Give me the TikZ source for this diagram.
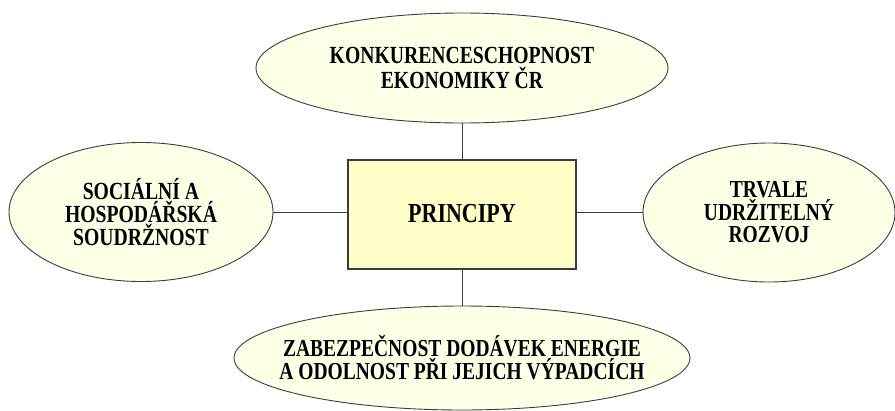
\documentclass[tikz,border=0pt]{standalone}
\usepackage{fontspec}
\setmainfont{Liberation Serif}[FakeStretch=0.8]
\usetikzlibrary{shapes.geometric}
\definecolor{ellfill}{RGB}{255,255,232}
\definecolor{boxfill}{RGB}{255,255,200}
\definecolor{edge}{RGB}{60,60,60}
\tikzset{
  ell/.style={ellipse, draw=edge, line width=0.9pt, fill=ellfill, inner sep=0pt, align=center,
    font=\bfseries\fontsize{24.6}{25}\selectfont, text=black},
  centerbox/.style={rectangle, draw=edge, line width=2pt, fill=boxfill, inner sep=0pt,
    minimum width=228pt, minimum height=109pt, font=\bfseries\fontsize{27.5}{28}\selectfont, text=black},
  link/.style={draw=edge, line width=1pt}
}
\begin{document}
\begin{tikzpicture}[x=1pt, y=-1pt]
\useasboundingbox (0,0) rectangle (895,410);
\node[centerbox] (rect) at (462,214) {PRINCIPY};
\node[ell, minimum width=412pt, minimum height=110pt] (top) at (462,68)
  {KONKURENCESCHOPNOST\\EKONOMIKY ČR};
\node[ell, minimum width=264pt, minimum height=139pt, font=\bfseries\fontsize{24.6}{23}\selectfont] (left) at (141,212)
  {SOCIÁLNÍ A\\HOSPODÁŘSKÁ\\SOUDRŽNOST};
\node[ell, minimum width=252pt, minimum height=139pt, font=\bfseries\fontsize{24.4}{22.5}\selectfont] (right) at (769,212.5)
  {TRVALE\\UDRŽITELNÝ\\ROZVOJ};
\node[ell, inner xsep=-60pt, minimum width=456pt, minimum height=104pt, font=\bfseries\fontsize{24.4}{23}\selectfont] (bottom) at (462,358)
  {ZABEZPEČNOST DODÁVEK ENERGIE\\A ODOLNOST PŘI JEJICH VÝPADCÍCH};
\draw[link] (top.south) -- (rect.north);
\draw[link] (rect.south) -- (bottom.north);
\draw[link] (left.east) -- (left.east -| rect.west);
\draw[link] (right.west) -- (right.west -| rect.east);
\end{tikzpicture}
\end{document}
